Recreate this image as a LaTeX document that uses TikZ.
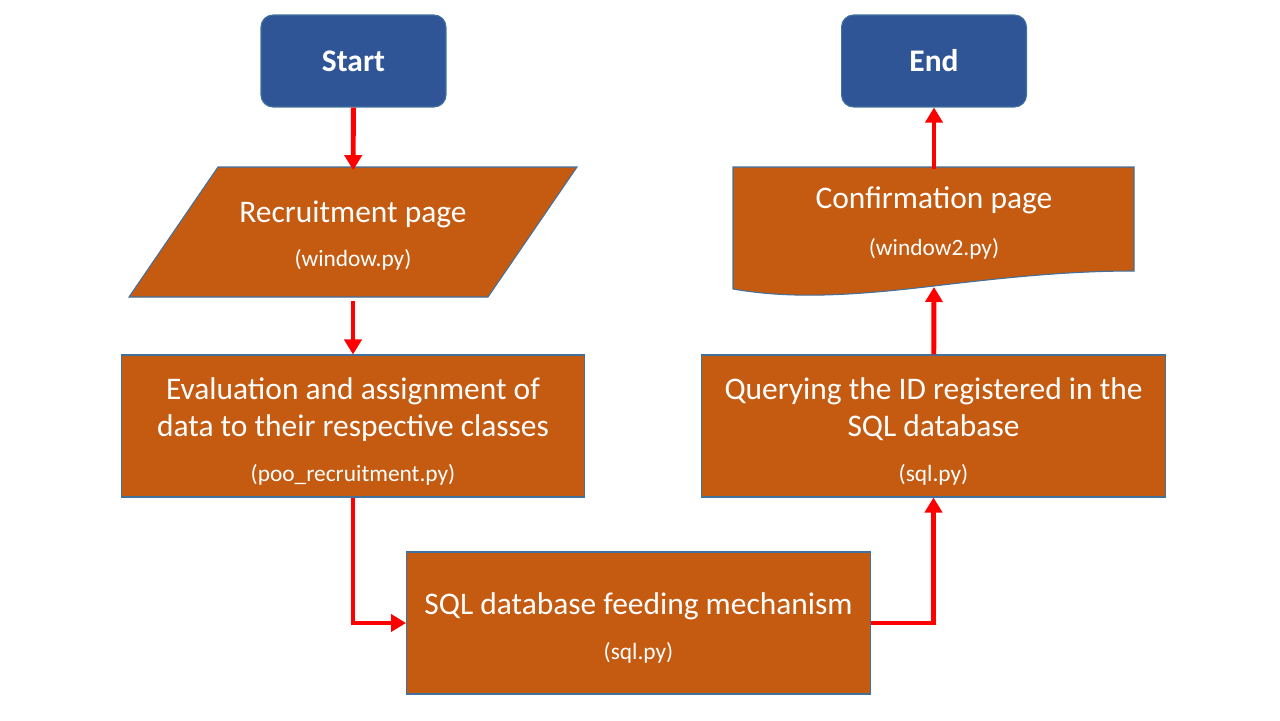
\documentclass[tikz,border=0pt]{standalone}
\usepackage{fontspec}
\setmainfont{Carlito}
\usepackage{tikz}
\usetikzlibrary{arrows.meta, positioning}
\definecolor{procfill}{HTML}{C55A11}
\definecolor{termblue}{HTML}{2F5597}
\definecolor{edgeblue}{HTML}{41719C}
\newcommand{\bigtxt}{\fontsize{17.9}{21.5}\selectfont}
\newcommand{\smalltxt}{\fontsize{13.3}{16}\selectfont}
\newcommand{\toppad}{\rule{0pt}{18.5pt}}
\tikzset{every node/.style={text=white, align=center, font=\bigtxt, inner sep=0pt},
	proc/.style={rectangle, fill=procfill, draw=edgeblue, line width=0.6pt, minimum width=9.28cm, minimum height=2.84cm},
	term/.style={rectangle, rounded corners=0.24cm, fill=termblue, draw=edgeblue, line width=0.6pt, minimum width=3.7cm, minimum height=1.84cm, font=\bigtxt\bfseries},
	flow/.style={draw=red, line width=2.8pt, -{Triangle[length=0.3cm, width=0.34cm]}}}

\begin{document}
\begin{tikzpicture}[x=0.02cm, y=-0.02cm]
	\useasboundingbox (0,0) rectangle (1280,720);
	% shapes drawn by hand
	\filldraw[fill=procfill, draw=edgeblue, line width=0.6pt] (218,167) -- (577,167) -- (488,297) -- (129,297) -- cycle;
	\filldraw[fill=procfill, draw=edgeblue, line width=0.6pt] (733,167) -- (1134,167) -- (1134,271)
		.. controls (1070,271) and (1010,277) .. (934,286) .. controls (850,296) and (790,299) .. (733,289) -- cycle;
	\node[term] (Start) at (353.5,61) {Start};
	\node[term] (End) at (934,61) {End};
	\node[minimum width=7.18cm, minimum height=2.6cm] (Recruit) at (353,235.5) {Recruitment page\\[4pt]{\smalltxt (window.py)}};
	\node[proc] (Eval) at (353,426) {\toppad Evaluation and assignment of\\data to their respective classes\\[4pt]{\smalltxt (poo\_recruitment.py)}};
	\node[proc] (Feed) at (638.5,623) {\toppad SQL database feeding mechanism\\[4pt]{\smalltxt (sql.py)}};
	\node[proc] (Query) at (933.5,426) {\toppad Querying the ID registered in the\\SQL database\\[4pt]{\smalltxt (sql.py)}};
	\node[minimum width=7cm, minimum height=2.16cm] (Confirm) at (934,223) {Confirmation page\\[5pt]{\smalltxt (window2.py)}};
	\coordinate (Wave) at (934,287);
	\draw[flow] (Start) -- (Recruit);
	\draw[flow] (Recruit) -- (Eval);
	\draw[flow] (Eval.south) |- (Feed.west);
	\draw[flow] (Feed.east) -| (Query.south);
	\draw[flow] (Query) -- (Wave);
	\draw[flow] (Confirm.north) -- (End);
\end{tikzpicture}
\end{document}
